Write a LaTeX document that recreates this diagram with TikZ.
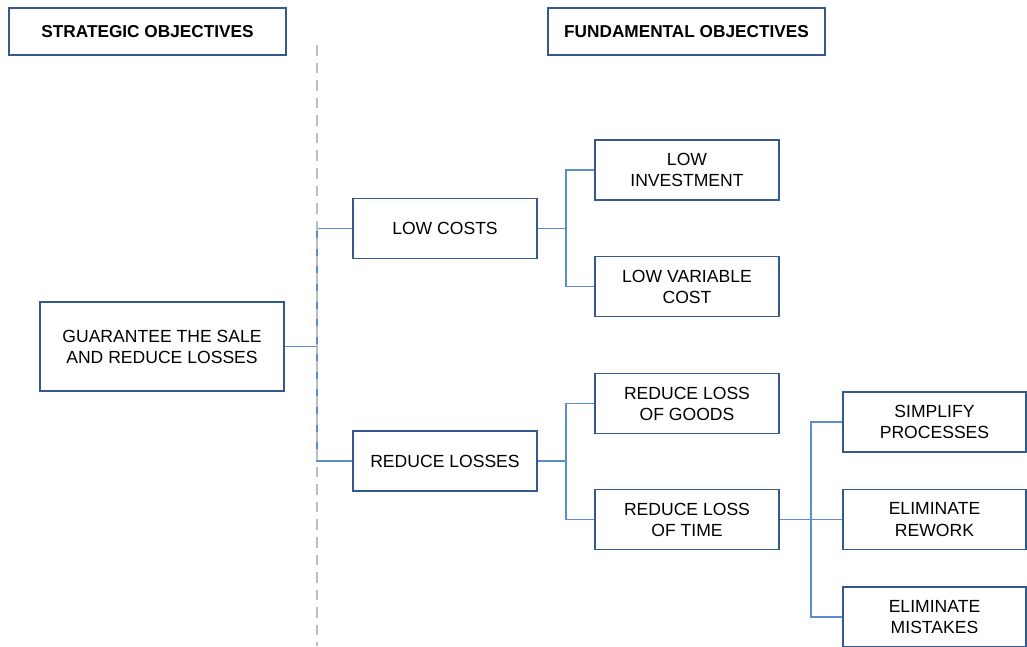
\documentclass[tikz,border=0pt]{standalone}
\usepackage{fontspec}
\setmainfont{Liberation Sans}
\usetikzlibrary{positioning}

\definecolor{boxblue}{HTML}{35588F}
\definecolor{linkblue}{HTML}{5B8CCB}
\definecolor{sepgray}{HTML}{BDBDBD}

\tikzset{
	obj/.style={draw=boxblue, line width=1.1pt, fill=white, align=center,
		minimum width=3.68cm, minimum height=1.2cm, inner sep=2pt,
		font=\fontsize{10}{12}\selectfont},
	head/.style={obj, minimum width=5.54cm, minimum height=0.94cm,
		font=\fontsize{9.8}{12}\selectfont\bfseries},
	link/.style={draw=linkblue, line width=0.9pt},
}

\begin{document}
\begin{tikzpicture}
	\useasboundingbox (0,0) rectangle (20.54,12.92);
	\begin{scope}
	\clip (0,0) rectangle (20.54,12.92);

	% column titles and the separator
	\node[head] (strat) at (2.95,12.29) {STRATEGIC OBJECTIVES};
	\node[head] (fund) at (13.73,12.29) {FUNDAMENTAL OBJECTIVES};

	% objectives tree
	\node[obj, minimum width=4.88cm, minimum height=1.78cm] (guar) at (3.24,5.99) {GUARANTEE THE SALE\\AND REDUCE LOSSES};
	\node[obj] (lowc) at (8.90,8.35) {LOW COSTS};
	\node[obj] (redl) at (8.90,3.70) {REDUCE LOSSES};
	\node[obj] (lowi) at (13.74,9.52) {LOW\\INVESTMENT};
	\node[obj] (lowv) at (13.74,7.19) {LOW VARIABLE\\COST};
	\node[obj] (goods) at (13.74,4.85) {REDUCE LOSS\\OF GOODS};
	\node[obj] (time) at (13.74,2.53) {REDUCE LOSS\\OF TIME};
	\node[obj, minimum width=3.66cm] (simp) at (18.69,4.48) {SIMPLIFY\\PROCESSES};
	\node[obj, minimum width=3.66cm] (rework) at (18.69,2.53) {ELIMINATE\\REWORK};
	\node[obj, minimum width=3.66cm] (mist) at (18.69,0.58) {ELIMINATE\\MISTAKES};

	% branch points
	\coordinate (j1) at (6.34,0);
	\coordinate (j2) at (11.32,0);
	\coordinate (j3) at (16.22,0);

	\draw[link] (guar.east) -- (guar.east -| j1);
	\draw[link] (lowc.west) -- (lowc.west -| j1) |- (redl.west);

	\draw[link] (lowc.east) -- (lowc.east -| j2);
	\draw[link] (lowi.west) -- (lowi.west -| j2) |- (lowv.west);

	\draw[link] (redl.east) -- (redl.east -| j2);
	\draw[link] (goods.west) -- (goods.west -| j2) |- (time.west);

	\draw[link] (time.east) -- (rework.west);
	\draw[link] (simp.west) -- (simp.west -| j3) |- (mist.west);

	% dashed separator runs over the first branch
	\draw[sepgray, line width=1pt, dash pattern=on 6pt off 4pt] (6.34,12.02) -- (6.34,0);
	\end{scope}
\end{tikzpicture}
\end{document}
